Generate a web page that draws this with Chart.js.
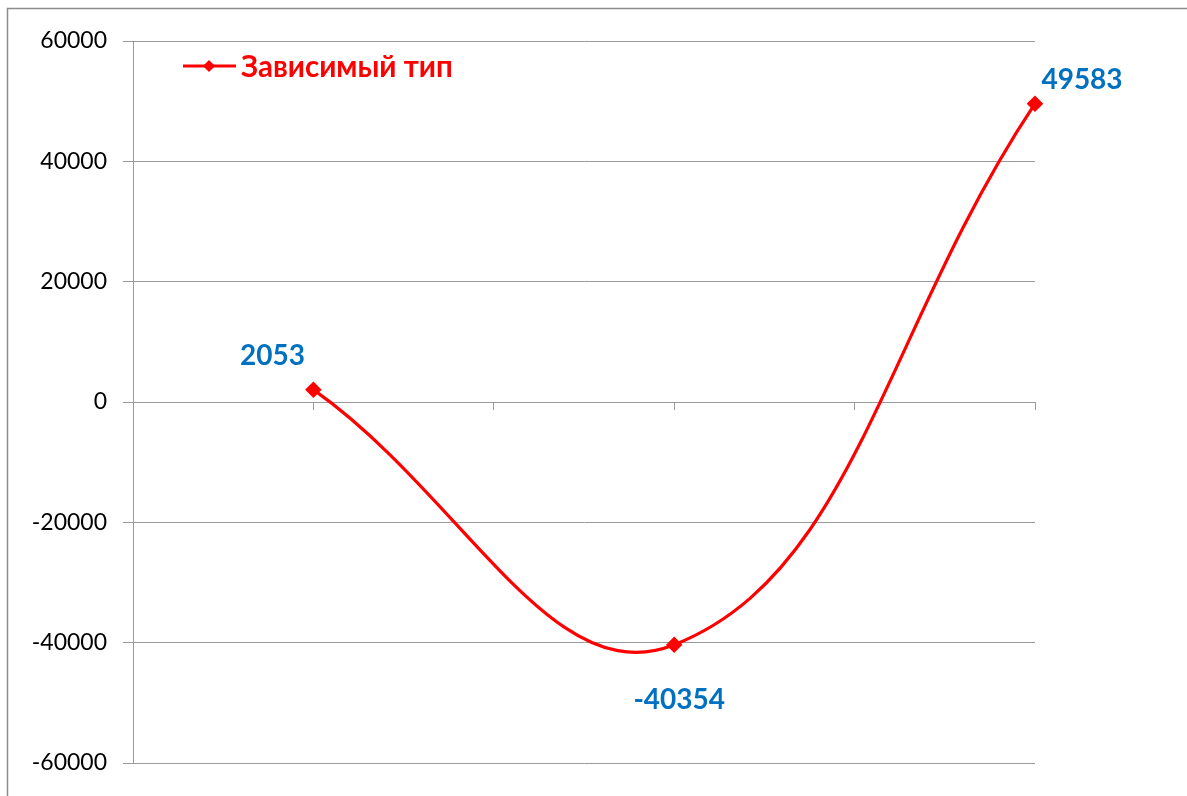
<!DOCTYPE html>
<html>
<head>
<meta charset="utf-8">
<script src="https://cdn.jsdelivr.net/npm/chart.js@4/dist/chart.umd.min.js"></script>
<style>
  html, body { margin: 0; padding: 0; background: #fff; }
  #wrap { width: 1187px; height: 796px; position: relative; }
</style>
</head>
<body>
<div id="wrap"><canvas id="c" width="1187" height="796"></canvas></div>
<script>
const categories = ['', '', '', '', '', ''];
const seriesName = 'Зависимый тип';
const seriesValues = [null, 2053, null, -40354, null, 49583];
const yTickValues = [-60000, -40000, -20000, 0, 20000, 40000, 60000];

const GRID = '#9a9a9a';
const RED = '#ff0000';
const BLUE = '#0070c0';

// label placement relative to each point: [dx, dy]
const labelOffsets = { 1: [-41, -34], 3: [5, 55], 5: [47, -24] };

const framePlugin = {
  id: 'frame',
  beforeDraw(chart) {
    const ctx = chart.ctx;
    ctx.save();
    ctx.fillStyle = '#fff';
    ctx.fillRect(0, 0, chart.width, chart.height);
    ctx.strokeStyle = '#8c8c8c';
    ctx.lineWidth = 1.5;
    ctx.strokeRect(7.5, 8.5, chart.width + 50, chart.height + 50);
    ctx.restore();
  }
};

const labelPlugin = {
  id: 'valueLabels',
  afterDatasetsDraw(chart) {
    const ctx = chart.ctx;
    const meta = chart.getDatasetMeta(0);
    ctx.save();
    ctx.font = 'bold 28px Lato, "Open Sans", sans-serif';
    ctx.fillStyle = BLUE;
    ctx.textAlign = 'center';
    ctx.textBaseline = 'middle';
    meta.data.forEach((pt, i) => {
      const v = seriesValues[i];
      if (v === null) return;
      const off = labelOffsets[i] || [0, -25];
      ctx.fillText(String(v), pt.x + off[0], pt.y + off[1]);
    });
    ctx.restore();
  }
};

const legendPlugin = {
  id: 'customLegend',
  afterDraw(chart) {
    const ctx = chart.ctx;
    const y = 66;
    ctx.save();
    ctx.strokeStyle = RED;
    ctx.lineWidth = 3;
    ctx.beginPath();
    ctx.moveTo(183, y);
    ctx.lineTo(236, y);
    ctx.stroke();
    ctx.fillStyle = RED;
    ctx.beginPath();
    ctx.moveTo(209, y - 6);
    ctx.lineTo(215, y);
    ctx.lineTo(209, y + 6);
    ctx.lineTo(203, y);
    ctx.closePath();
    ctx.fill();
    ctx.font = 'bold 29.5px Lato, "Open Sans", sans-serif';
    ctx.textAlign = 'left';
    ctx.textBaseline = 'middle';
    ctx.fillText(seriesName, 241, y + 1);
    ctx.restore();
  }
};

new Chart(document.getElementById('c'), {
  type: 'line',
  data: {
    labels: categories,
    datasets: [{
      label: seriesName,
      data: seriesValues,
      borderColor: RED,
      backgroundColor: RED,
      borderWidth: 3.2,
      tension: 0.42,
      spanGaps: true,
      pointStyle: 'rectRot',
      pointRadius: 6,
      pointHoverRadius: 6,
      fill: false
    }]
  },
  options: {
    responsive: false,
    animation: false,
    events: [],
    layout: { padding: { left: 0, top: 41, right: 152, bottom: 33 } },
    plugins: {
      legend: { display: false },
      tooltip: { enabled: false }
    },
    scales: {
      x: {
        type: 'category',
        offset: false,
        position: { y: 0 },
        grid: { drawOnChartArea: false, drawTicks: true, tickLength: 7, color: GRID, lineWidth: 1 },
        border: { display: true, color: GRID, width: 1 },
        ticks: { display: false }
      },
      y: {
        min: -60000,
        max: 60000,
        afterBuildTicks(scale) { scale.ticks = yTickValues.map(v => ({ value: v })); },
        afterFit(scale) { scale.width = 133; },
        grid: { color: GRID, lineWidth: 1, tickLength: 10, drawTicks: true },
        border: { display: true, color: GRID, width: 1 },
        ticks: {
          padding: 16,
          color: '#000',
          font: { family: 'Lato, "Open Sans", sans-serif', size: 23 },
          callback: (v) => String(v)
        }
      }
    }
  },
  plugins: [framePlugin, labelPlugin, legendPlugin]
});
</script>
</body>
</html>
